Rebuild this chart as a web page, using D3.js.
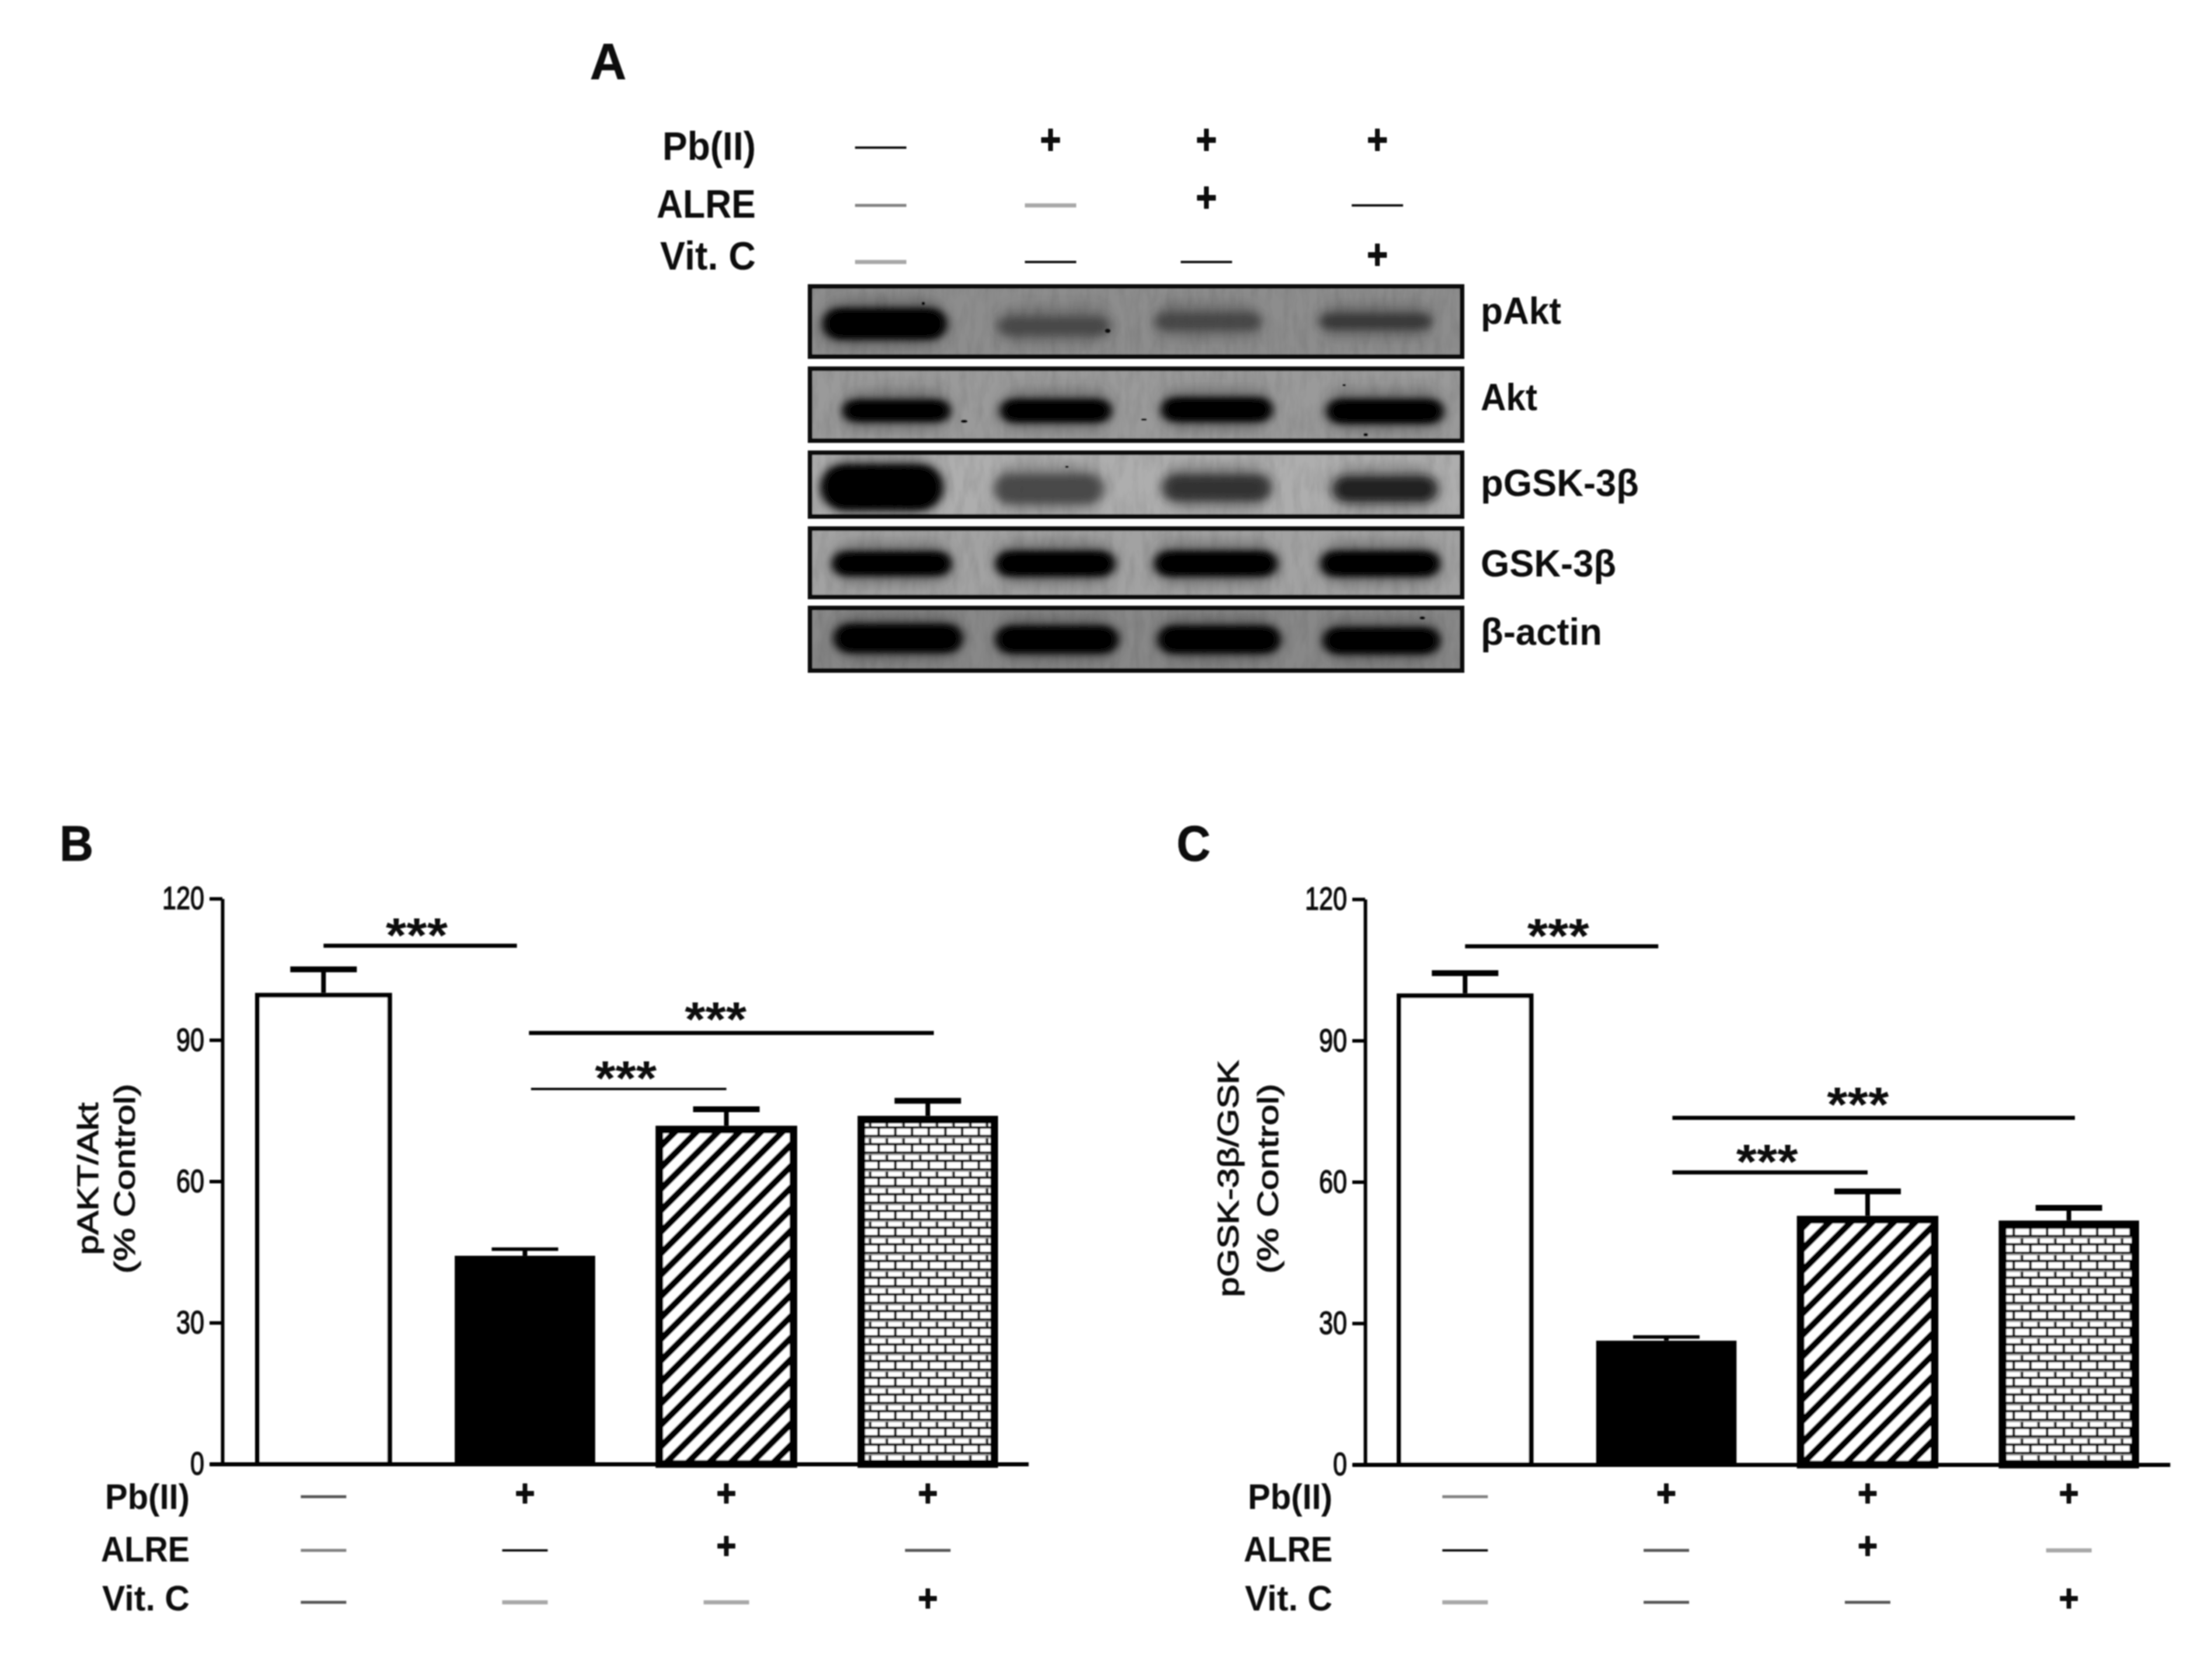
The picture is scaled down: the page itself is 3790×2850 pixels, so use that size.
<!DOCTYPE html>
<html><head><meta charset="utf-8">
<style>html,body{margin:0;background:#fff}svg{display:block}text{font-family:"Liberation Sans",Arial,sans-serif;fill:#111}</style>
<script src="https://cdnjs.cloudflare.com/ajax/libs/d3/7.8.5/d3.min.js"></script></head><body>
<script>
// ---------- DATA ----------
const treatmentNames = ["Pb(II)", "ALRE", "Vit. C"];
const blotTreatments = [["-","+","+","+"],["-","-","+","-"],["-","-","-","+"]];
const blotDashTone   = [["k","","",""],["m","l","","k"],["l","k","k",""]];
const panelBDashTone = [["d","","",""],["m","k","","d"],["d","l","l",""]];
const panelCDashTone = [["m","","",""],["k","d","","l"],["l","d","d",""]];
const proteins = ["pAkt","Akt","pGSK-3β","GSK-3β","β-actin"];
const bandDarkness = [[1,.58,.6,.7],[1,1,1,1],[1,.6,.74,.86],[1,1,1,1],[1,1,1,1]];
const blotBackground = ["#8d8d8d","#9a9a9a","#aeaeae","#a2a2a2","#888888"];
const tickValues = [0,30,60,90,120];
const pAktValues = [100,44.2,71.8,73.9];
const pAktCaps   = [105,45.6,75.3,77.1];
const pGskValues = [100,26.3,52.8,51.8];
const pGskCaps   = [104.3,27.1,58,54.5];
const pAktSig = [{a:0,b:.96,v:110},{a:1.02,b:3.03,v:91.5},{a:1.03,b:2,v:79.6,thin:1}];
const pGskSig = [{a:0,b:.96,v:110},{a:1.03,b:3.03,v:73.6},{a:1.03,b:2,v:62}];

// ---------- LAYOUT ----------
const svg = d3.select("body").append("svg").attr("width",3790).attr("height",2850);
const defs = svg.append("defs");
const toneColor = {k:"#111",d:"#555",m:"#808080",l:"#a8a8a8"};
const toneWidth = {k:4,d:5,m:5,l:7};

defs.append("filter").attr("id","soft").attr("x","-5%").attr("y","-5%").attr("width","110%").attr("height","110%")
  .append("feGaussianBlur").attr("stdDeviation",1);
const fB=defs.append("filter").attr("id","band").attr("x","-30%").attr("y","-80%").attr("width","160%").attr("height","260%");
fB.append("feGaussianBlur").attr("stdDeviation","9 7");
const fH=defs.append("filter").attr("id","halo").attr("x","-30%").attr("y","-100%").attr("width","160%").attr("height","300%");
fH.append("feGaussianBlur").attr("stdDeviation","11 13");
const fG=defs.append("filter").attr("id","grain").attr("x",0).attr("y",0).attr("width","100%").attr("height","100%");
fG.append("feTurbulence").attr("type","fractalNoise").attr("baseFrequency",".07 .02").attr("numOctaves",3).attr("seed",4);
fG.append("feColorMatrix").attr("values","0 0 0 0 0  0 0 0 0 0  0 0 0 0 0  1.1 0 0 0 -.42");

const stripe = defs.append("pattern").attr("id","stripes").attr("patternUnits","userSpaceOnUse")
  .attr("width",26).attr("height",26).attr("patternTransform","rotate(45)");
stripe.append("rect").attr("width",26).attr("height",26).attr("fill","#fff");
stripe.append("rect").attr("width",11).attr("height",26).attr("fill","#000");

const brick = defs.append("pattern").attr("id","bricks").attr("patternUnits","userSpaceOnUse")
  .attr("width",28.6).attr("height",28.6);
brick.append("rect").attr("width",28.6).attr("height",28.6).attr("fill","#fff");
brick.append("path").attr("d","M0 1.8H28.6M0 16.1H28.6M4 1.8V16.1M18.3 16.1V28.6").attr("stroke","#000").attr("stroke-width",4).attr("fill","none");
brick.append("path").attr("d","M0 5H28.6").attr("stroke","#999").attr("stroke-width",2.4);
brick.append("path").attr("d","M1.6 3V15").attr("stroke","#999").attr("stroke-width",1.8);

const root = svg.append("g").attr("filter","url(#soft)");

function label(g,txt,x,y,size,len,opt={}){
  const t=g.append("text").text(txt).attr("x",x).attr("y",y+size*.36).attr("font-size",size)
    .attr("text-anchor",opt.anchor||"end").attr("font-weight",opt.weight||"bold");
  if(len) t.attr("textLength",len).attr("lengthAdjust","spacingAndGlyphs");
  if(opt.stroke) t.attr("stroke","#111").attr("stroke-width",opt.stroke);
  return t;
}
function treatments(g,x,rowsY,plusY,toneRows,dashLen,plusSize,plusW){
  treatmentNames.forEach((_,r)=>{
    blotTreatments[r].forEach((s,c)=>{
      if(s==="+"){
        g.append("text").text("+").attr("x",x(c)).attr("y",plusY[r]+plusSize*.33).attr("text-anchor","middle")
         .attr("font-size",plusSize).attr("font-weight","bold").attr("fill","#000").attr("stroke","#000").attr("stroke-width",1.5)
         .attr("textLength",plusW).attr("lengthAdjust","spacingAndGlyphs");
      } else {
        const tone=toneRows[r][c];
        g.append("line").attr("x1",x(c)-dashLen/2).attr("x2",x(c)+dashLen/2)
         .attr("y1",rowsY[r]).attr("y2",rowsY[r]).attr("stroke",toneColor[tone]).attr("stroke-width",toneWidth[tone]);
      }
    });
  });
}

// ---------- PANEL A ----------
const A = root.append("g");
label(A,"A",1011,103,88,62,{anchor:"start",stroke:1});
const tableXs = [1509,1800,2067,2360];
treatments(A,c=>tableXs[c],[253,352,449],[240,339,437],blotDashTone,88,72,36);
const topLab=[[1295,250,68,160],[1295,349,68,170],[1295,438,68,164]];
treatmentNames.forEach((n,i)=>label(A,n,topLab[i][0],topLab[i][1],topLab[i][2],topLab[i][3]));

const rowY = [[487,615],[628,759],[772,889],[902,1027],[1038,1153]];
const laneCentre = [[1516,1806,2070,2357],[1536,1809,2085,2373],[1511,1797,2085,2373],[1528,1808,2083,2365],[1539,1811,2089,2367]];
const bandW = [[210,190,180,190],[182,188,188,198],[206,184,184,178],[202,202,208,202],[218,208,208,198]];
const bandH = [[50,30,28,26],[34,36,38,38],[74,48,44,42],[38,40,40,40],[46,44,44,42]];
const bandCY = [[555,559,551,551],[704,704,702,705],[835,838,836,838],[966,966,966,966],[1094,1096,1096,1098]];
const rowLabY = [532,680,827,965,1082];
const rowLabLen = [138,97,271,232,208];
const specks = [[1,1652,722,6,3],[1,1960,719,5,2],[0,1898,567,5,4],[0,1582,520,3,3],[1,2340,745,4,3],[4,2437,1059,5,3],[2,1828,800,3,2],[1,2303,660,3,2]];
const dark = d => { const v=d<1?Math.round(165*(1-d)):0; return d3.rgb(v,v,v)+""; };
proteins.forEach((p,r)=>{
  const [y0,y1]=rowY[r];
  const id="clip"+r;
  defs.append("clipPath").attr("id",id).append("rect").attr("x",1385).attr("y",y0).attr("width",1123).attr("height",y1-y0);
  const g=A.append("g").attr("clip-path",`url(#${id})`);
  g.append("rect").attr("x",1385).attr("y",y0).attr("width",1123).attr("height",y1-y0).attr("fill",blotBackground[r]);
  g.append("rect").attr("x",1385).attr("y",y0).attr("width",1123).attr("height",y1-y0).attr("filter","url(#grain)").attr("opacity",.14);
  bandDarkness[r].forEach((d,c)=>{
    const w=bandW[r][c],h=bandH[r][c],cx=laneCentre[r][c],cy=bandCY[r][c];
    g.append("rect").attr("x",cx-w/2).attr("y",cy-h/2-14).attr("width",w).attr("height",h+26).attr("rx",(h+26)/2)
      .attr("fill","#333").attr("opacity",.3+.2*d).attr("filter","url(#halo)");
    g.append("rect").attr("x",cx-w/2).attr("y",cy-h/2).attr("width",w).attr("height",h).attr("rx",h/2)
      .attr("fill",dark(d)).attr("opacity",d<1?.88:1).attr("filter","url(#band)");
    if(d===1) g.append("rect").attr("x",cx-w/2+8).attr("y",cy-h/2+4).attr("width",w-16).attr("height",h-8).attr("rx",(h-8)/2)
      .attr("fill","#000").attr("filter","url(#band)");
  });
  specks.filter(s=>s[0]===r).forEach(s=>g.append("ellipse").attr("cx",s[1]).attr("cy",s[2]).attr("rx",s[3]).attr("ry",s[4]).attr("fill","#111"));
  A.append("rect").attr("x",1388).attr("y",y0+4).attr("width",1117).attr("height",y1-y0-8).attr("fill","none")
    .attr("stroke","#0c0c0c").attr("stroke-width",8);
  label(A,p,2537,rowLabY[r],64,rowLabLen[r],{anchor:"start"});
});

// ---------- BAR PANELS ----------
function barPanel(o){
  const g=root.append("g");
  const y=d3.scaleLinear().domain([0,120]).range([o.base,o.top]);
  const x=d3.scaleBand().domain([0,1,2,3]).range(o.bars).paddingInner(.32).paddingOuter(0);
  const cx=i=>x(i)+x.bandwidth()/2;
  const pos=f=>cx(0)+f*x.step();
  label(g,o.letter,o.letterX,1444,86,58,{anchor:"start",stroke:1});
  o.values.forEach((v,i)=>{
    g.append("line").attr("x1",cx(i)).attr("x2",cx(i)).attr("y1",y(v)).attr("y2",y(o.caps[i])).attr("stroke","#000").attr("stroke-width",8);
    g.append("line").attr("x1",cx(i)-57).attr("x2",cx(i)+57).attr("y1",y(o.caps[i])).attr("y2",y(o.caps[i])).attr("stroke","#000").attr("stroke-width",i==1?6:10);
  });
  const fills=["#fff","#000","url(#stripes)","url(#bricks)"], sw=[8,8,13,13], grow=[0,3,4,3];
  g.selectAll(".bar").data(o.values).join("rect").attr("class","bar")
    .attr("x",(d,i)=>x(i)-grow[i]+sw[i]/2).attr("width",(d,i)=>x.bandwidth()+2*grow[i]-sw[i])
    .attr("y",(d,i)=>y(d)+sw[i]/2).attr("height",(d,i)=>y(0)-y(d)-sw[i]/2)
    .attr("fill",(d,i)=>fills[i]).attr("stroke","#000").attr("stroke-width",(d,i)=>sw[i]);
  const ax=g.append("g").attr("transform",`translate(${o.axisX},0)`)
    .call(d3.axisLeft(y).tickValues(tickValues).tickSize(22).tickSizeOuter(0).tickPadding(9));
  ax.selectAll("path,line").attr("stroke","#000").attr("stroke-width",6);
  ax.selectAll("text").attr("font-size",56).attr("font-family",'"Liberation Sans"').attr("fill","#111")
    .attr("stroke","#111").attr("stroke-width",1.6).attr("textLength",function(d){return String(d).length*24}).attr("lengthAdjust","spacingAndGlyphs");
  const bx=d3.scaleLinear().domain([0,1]).range([o.axisX-22,o.axisEnd]);
  g.append("g").attr("transform",`translate(0,${y(0)})`).call(d3.axisBottom(bx).tickValues([]).tickSize(0).tickSizeOuter(0))
    .select("path").attr("stroke","#000").attr("stroke-width",7);
  o.sig.forEach(s=>{
    g.append("line").attr("x1",pos(s.a)).attr("x2",pos(s.b)).attr("y1",y(s.v)).attr("y2",y(s.v))
      .attr("stroke","#000").attr("stroke-width",s.thin?4:7);
    const shift=s.a==0?-6:(s.b>2.5?-27:-5), up=s.b>2.5?-12:-7;
    g.append("text").text("***").attr("x",(pos(s.a)+pos(s.b))/2+shift).attr("y",y(s.v)+18+up).attr("text-anchor","middle")
      .attr("font-size",84).attr("font-weight","bold").attr("textLength",106).attr("lengthAdjust","spacingAndGlyphs");
  });
  treatments(g,cx,[2565,2657,2746],[2560,2650,2740],o.tones,78,64,34);
  const botLab=[[2564,145],[2654,152],[2738,150]];
  treatmentNames.forEach((n,i)=>label(g,n,o.labX,botLab[i][0],62,botLab[i][1]));
  [[o.title,o.titleX,o.titleLen],["(% Control)",o.title2X,326]].forEach(([t,xx,l])=>{
    g.append("text").text(t).attr("transform",`translate(${xx+28},2020) rotate(-90)`).attr("text-anchor","middle")
      .attr("font-size",50).attr("stroke","#111").attr("stroke-width",1.3).attr("textLength",l).attr("lengthAdjust","spacingAndGlyphs");
  });
}
barPanel({letter:"B",letterX:102,top:1540,base:2509,bars:[437,1707],axisX:381,axisEnd:1762,values:pAktValues,caps:pAktCaps,sig:pAktSig,tones:panelBDashTone,labX:325,title:"pAKT/Akt",titleX:140,titleLen:261,title2X:203});
barPanel({letter:"C",letterX:2016,top:1541,base:2510,bars:[2393,3662],axisX:2339,axisEnd:3718,values:pGskValues,caps:pGskCaps,sig:pGskSig,tones:panelCDashTone,labX:2283,title:"pGSK-3β/GSK",titleX:2094,titleLen:406,title2X:2162});
</script></body></html>
